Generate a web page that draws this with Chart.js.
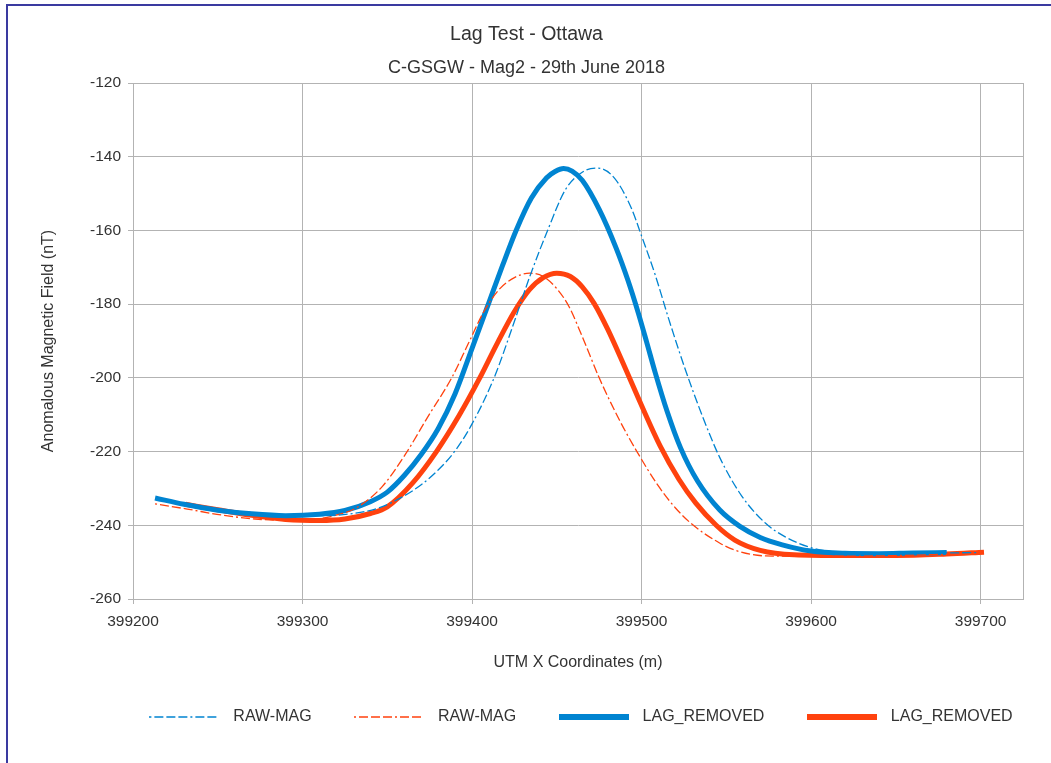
<!DOCTYPE html>
<html>
<head>
<meta charset="utf-8">
<script src="https://cdn.jsdelivr.net/npm/chart.js@4/dist/chart.umd.min.js"></script>
<style>
  html, body { margin: 0; padding: 0; background: #ffffff; }
  #wrap { position: relative; width: 1051px; height: 763px; }
  #frame { position: absolute; left: 6px; top: 4px; right: 0; bottom: 0;
           border-top: 2px solid #3a3aa0; border-left: 2px solid #3a3aa0; pointer-events: none; }
  canvas { position: absolute; left: 0; top: 0; }
</style>
</head>
<body>
<div id="wrap">
  <canvas id="c" width="1051" height="763"></canvas>
  <div id="frame"></div>
</div>
<script>
// ---- Data ----
const chartTitle = "Lag Test - Ottawa";
const chartSubtitle = "C-GSGW - Mag2 - 29th June 2018";
const xAxisTitle = "UTM X Coordinates (m)";
const yAxisTitle = "Anomalous Magnetic Field (nT)";
const seriesNames = ["RAW-MAG", "RAW-MAG", "LAG_REMOVED", "LAG_REMOVED"];

// RAW-MAG (blue, dash-dot)
const rawBlueX = [399232, 399250, 399270, 399290, 399310, 399330, 399345, 399360, 399370, 399380, 399390, 399400, 399413, 399424, 399434, 399445, 399455, 399465, 399474, 399484, 399494, 399500, 399508, 399516, 399526, 399536, 399546, 399559, 399573, 399585, 399601, 399620, 399650, 399680, 399699];
const rawBlueY = [-234.4, -235.6, -236.6, -237.2, -237.4, -236.8, -235.3, -232.0, -229.0, -225.0, -219.8, -212.5, -200.0, -186.0, -172.6, -159.5, -149.0, -144.2, -143.1, -145.8, -154.0, -161.5, -172.0, -184.0, -198.0, -210.5, -221.5, -232.0, -239.4, -243.2, -246.2, -247.5, -247.7, -247.5, -247.4];

// RAW-MAG (red, dash-dot)
const rawRedX = [399213, 399232, 399252, 399272, 399292, 399310, 399322, 399332, 399347, 399361, 399374, 399388, 399398, 399407, 399416, 399425, 399434, 399442, 399450, 399457, 399465, 399475, 399487, 399497, 399510, 399520, 399530, 399546, 399556, 399573, 399600, 399640, 399684];
const rawRedY = [-234.2, -235.6, -237.2, -238.3, -238.7, -238.2, -237.0, -235.2, -229.5, -220.5, -210.5, -200.0, -190.5, -182.0, -176.0, -172.8, -171.6, -172.5, -175.8, -180.5, -188.8, -200.0, -211.5, -219.8, -229.4, -235.3, -239.8, -244.8, -246.9, -248.3, -248.4, -248.3, -247.8];

// LAG_REMOVED (blue, thick)
const lagBlueX = [399213, 399230, 399250, 399270, 399290, 399310, 399325, 399340, 399350, 399360, 399370, 399380, 399390, 399400, 399410, 399418, 399426, 399435, 399444, 399449, 399454, 399459, 399465, 399475, 399485, 399492, 399498, 399503, 399508, 399515, 399523, 399533, 399546, 399558, 399570, 399583, 399600, 399620, 399640, 399660, 399680];
const lagBlueY = [-232.6, -234.3, -235.9, -236.9, -237.4, -237.0, -236.0, -233.6, -231.0, -226.5, -220.8, -213.8, -204.3, -192.0, -179.5, -169.5, -160.0, -151.2, -145.7, -144.0, -143.2, -143.9, -146.4, -154.3, -164.8, -173.6, -182.3, -190.3, -198.5, -209.0, -219.0, -228.0, -235.8, -240.3, -243.3, -245.3, -247.0, -247.6, -247.7, -247.5, -247.4];

// LAG_REMOVED (red, thick)
const lagRedX = [399231, 399250, 399270, 399290, 399310, 399325, 399340, 399350, 399365, 399379, 399392, 399404, 399415, 399425, 399434, 399442, 399450, 399458, 399465, 399472, 399480, 399490, 399500, 399511, 399522, 399532, 399544, 399555, 399570, 399590, 399620, 399650, 399680, 399702];
const lagRedY = [-234.3, -235.8, -237.3, -238.4, -238.7, -238.3, -236.8, -235.0, -228.5, -220.0, -210.5, -200.5, -190.5, -182.0, -176.0, -172.8, -171.6, -172.5, -175.3, -179.8, -186.8, -197.0, -207.5, -218.5, -227.5, -234.0, -240.0, -244.0, -246.8, -248.0, -248.2, -248.2, -247.8, -247.3];

// Axis ranges / ticks
const xMin = 399200, xMax = 399725, xStep = 100;
const yMin = -260, yMax = -120, yStep = 20;

// ---- Styling ----
const BLUE = "#0084d1";
const RED = "#ff420e";
const GRID = "#b3b3b3";
const TEXT = "#333333";
const FONT = "'Liberation Sans', Arial, sans-serif";

function pts(xs, ys) { return xs.map((x, i) => ({ x: x, y: ys[i] })); }

const dashDot = [2, 3, 9, 3, 9, 3, 9, 3];

const datasets = [
  { label: seriesNames[0], data: pts(rawBlueX, rawBlueY), borderColor: BLUE, backgroundColor: BLUE,
    borderWidth: 1.3, borderDash: dashDot },
  { label: seriesNames[1], data: pts(rawRedX, rawRedY), borderColor: RED, backgroundColor: RED,
    borderWidth: 1.3, borderDash: dashDot },
  { label: seriesNames[2], data: pts(lagBlueX, lagBlueY), borderColor: BLUE, backgroundColor: BLUE,
    borderWidth: 5 },
  { label: seriesNames[3], data: pts(lagRedX, lagRedY), borderColor: RED, backgroundColor: RED,
    borderWidth: 5 }
].map(d => Object.assign(d, { pointRadius: 0, pointHoverRadius: 0, cubicInterpolationMode: 'monotone', fill: false }));

// legend line samples (small canvases used as legend point styles)
function legendSample(color, width, dash) {
  const c = document.createElement('canvas');
  c.width = 70; c.height = 8;
  const g = c.getContext('2d');
  g.strokeStyle = color; g.lineWidth = width;
  g.setLineDash(dash || []);
  g.beginPath(); g.moveTo(0, 4); g.lineTo(70, 4); g.stroke();
  return c;
}
const legendSamples = [
  legendSample(BLUE, 1.4, dashDot),
  legendSample(RED, 1.4, dashDot),
  legendSample(BLUE, 6),
  legendSample(RED, 6)
];

const plotFrame = {
  id: 'plotFrame',
  beforeDatasetsDraw(chart) {
    const a = chart.chartArea, ctx = chart.ctx;
    ctx.save();
    ctx.strokeStyle = GRID;
    ctx.lineWidth = 1;
    ctx.strokeRect(Math.round(a.left) + 0.5, Math.round(a.top) + 0.5,
                   Math.round(a.right - a.left), Math.round(a.bottom - a.top));
    ctx.restore();
  }
};

// centre the legend row under the plot area (as in the reference)
const legendUnderPlot = {
  id: 'legendUnderPlot',
  afterLayout(chart) {
    const lg = chart.legend, a = chart.chartArea;
    if (!lg) return;
    const shift = (a.left + a.right) / 2 - (lg.left + lg.right) / 2;
    lg.left += shift; lg.right += shift;
  }
};

new Chart(document.getElementById('c'), {
  type: 'line',
  data: { datasets: datasets },
  plugins: [plotFrame, legendUnderPlot],
  options: {
    responsive: false,
    animation: false,
    devicePixelRatio: 1,
    layout: { padding: { left: 30, right: 28, top: 0, bottom: 28 } },
    plugins: {
      title: { display: true, text: chartTitle, color: TEXT,
               font: { family: FONT, size: 19.5, weight: 'normal' },
               padding: { top: 23.3, bottom: 0 } },
      subtitle: { display: true, text: chartSubtitle, color: TEXT,
                  font: { family: FONT, size: 18, weight: 'normal' },
                  padding: { top: 10.5, bottom: 4.2 } },
      legend: {
        position: 'bottom',
        labels: {
          usePointStyle: true, pointStyleWidth: 82,
          color: TEXT, font: { family: FONT, size: 16 }, padding: 36.4,
          generateLabels: chart => {
            const items = Chart.defaults.plugins.legend.labels.generateLabels(chart);
            items.forEach((it, i) => { it.pointStyle = legendSamples[it.datasetIndex]; it.lineWidth = 1; });
            return items;
          }
        }
      },
      tooltip: { enabled: false }
    },
    scales: {
      x: {
        type: 'linear', min: xMin, max: xMax,
        ticks: { stepSize: xStep, includeBounds: false, color: TEXT, padding: 8.7,
                 font: { family: FONT, size: 15.5 }, maxRotation: 0,
                 callback: v => String(v) },
        grid: { color: GRID, tickLength: 5, lineWidth: 1 },
        border: { color: GRID },
        title: { display: true, text: xAxisTitle, color: TEXT,
                 font: { family: FONT, size: 16 }, padding: { top: 0, bottom: 0 } },
        afterFit: s => { s.height = 73.6; }
      },
      y: {
        type: 'linear', min: yMin, max: yMax,
        ticks: { stepSize: yStep, color: TEXT, padding: 7,
                 font: { family: FONT, size: 15.5 },
                 callback: v => String(v) },
        grid: { color: GRID, tickLength: 5, lineWidth: 1 },
        border: { color: GRID },
        title: { display: true, text: yAxisTitle, color: TEXT,
                 font: { family: FONT, size: 16 }, padding: { top: 9.4, bottom: 0 } },
        afterFit: s => { s.width = 103; }
      }
    }
  }
});
</script>
</body>
</html>
